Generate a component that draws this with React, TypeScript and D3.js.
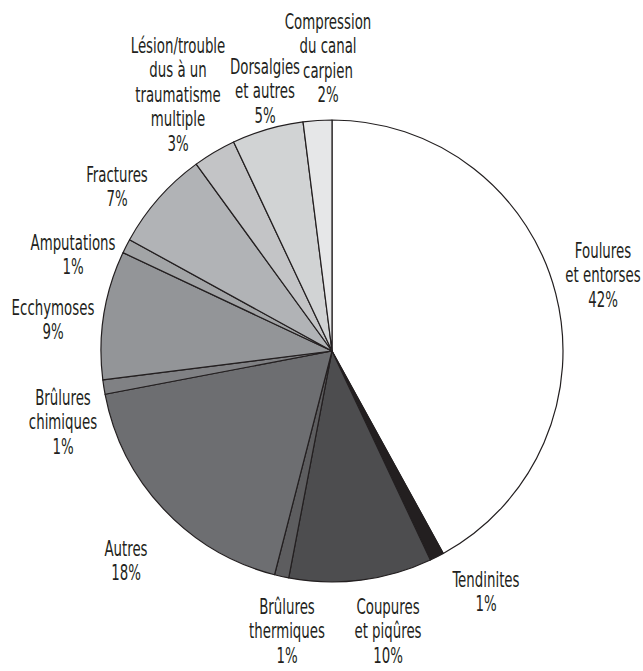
import React from "react";
import * as d3 from "d3";

const categories = [
  ["Foulures", "et entorses"],
  ["Tendinites"],
  ["Coupures", "et piqûres"],
  ["Brûlures", "thermiques"],
  ["Autres"],
  ["Brûlures", "chimiques"],
  ["Ecchymoses"],
  ["Amputations"],
  ["Fractures"],
  ["Lésion/trouble", "dus à un", "traumatisme", "multiple"],
  ["Dorsalgies", "et autres"],
  ["Compression", "du canal", "carpien"],
];
const values = [42, 1, 10, 1, 18, 1, 9, 1, 7, 3, 5, 2];
const colors = ["#ffffff", "#231f20", "#4d4d4f", "#5d5d5f", "#6d6e71", "#808184", "#939598", "#a2a4a6", "#b1b3b6", "#c3c4c6", "#d1d3d4", "#e6e7e8"];
// label anchor (center x, baseline of first line)
const labelPos: [number, number][] = [
  [603, 258], [486, 587], [388, 614], [287, 614], [126, 556], [63, 405],
  [53, 315], [73, 250], [117, 182], [178, 53], [265, 74], [328, 29],
];

const W = 643, H = 671;
const cx = 332, cy = 351, R = 231;
const LH = 24.4;

export default function App() {
  const pie = d3.pie<number>().value((d) => d).sort(null);
  const arcs = pie(values);
  const arc = d3.arc<d3.PieArcDatum<number>>().innerRadius(0).outerRadius(R);
  return (
    <svg width={W} height={H} style={{ position: "absolute", left: 0, top: 0, background: "#fff" }}>
      <g transform={`translate(${cx},${cy})`}>
        {arcs.map((a, i) => (
          <path key={i} d={arc(a) || ""} fill={colors[i]} stroke="#231f20" strokeWidth={1.2} strokeLinejoin="round" />
        ))}
      </g>
      <g fontFamily="'DejaVu Sans Condensed', 'DejaVu Sans', sans-serif" fontSize={21.5} fill="#231f20" textAnchor="middle">
        {categories.map((lines, i) => {
          const [x, y] = labelPos[i];
          const all = [...lines, `${values[i]}%`];
          return (
            <text key={i} transform={`translate(${x},${y}) scale(0.69,1)`}>
              {all.map((t, j) => (
                <tspan key={j} x={0} y={j * LH}>{t}</tspan>
              ))}
            </text>
          );
        })}
      </g>
    </svg>
  );
}
